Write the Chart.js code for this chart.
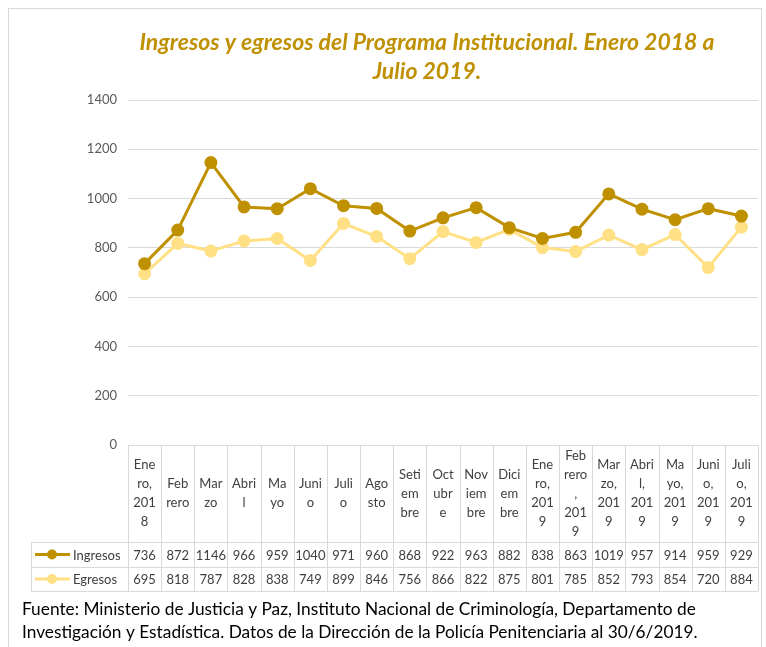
<!DOCTYPE html>
<html>
<head>
<meta charset="utf-8">
<script src="https://cdn.jsdelivr.net/npm/chart.js@4"></script>
<style>
  html, body { margin: 0; padding: 0; background: #fff; }
  #wrap { width: 766px; height: 647px; position: relative; }
</style>
</head>
<body>
<div id="wrap"><canvas id="chart"></canvas></div>
<script>
// categories as Excel wraps them in the data table
const categories = [
    ['Ene', 'ro,', '201', '8'], ['Feb', 'rero'], ['Mar', 'zo'], ['Abri', 'l'], ['Ma', 'yo'],
    ['Juni', 'o'], ['Juli', 'o'], ['Ago', 'sto'], ['Seti', 'em', 'bre'], ['Oct', 'ubr', 'e'],
    ['Nov', 'iem', 'bre'], ['Dici', 'em', 'bre'], ['Ene', 'ro,', '201', '9'],
    ['Feb', 'rero', ',', '201', '9'], ['Mar', 'zo,', '201', '9'], ['Abri', 'l,', '201', '9'],
    ['Ma', 'yo,', '201', '9'], ['Juni', 'o,', '201', '9'], ['Juli', 'o,', '201', '9']
];
const ingresos = [736, 872, 1146, 966, 959, 1040, 971, 960, 868, 922, 963, 882, 838, 863, 1019, 957, 914, 959, 929];
const egresos = [695, 818, 787, 828, 838, 749, 899, 846, 756, 866, 822, 875, 801, 785, 852, 793, 854, 720, 884];
const yTicks = [0, 200, 400, 600, 800, 1000, 1200, 1400];

const titleLines = ['Ingresos y egresos del Programa Institucional. Enero 2018 a', 'Julio 2019.'];
const footerLines = [
    'Fuente: Ministerio de Justicia y Paz, Instituto Nacional de Criminología, Departamento de',
    'Investigación y Estadística. Datos de la Dirección de la Policía Penitenciaria al 30/6/2019.'
];

const GOLD = '#BF9000';
const LIGHT = '#FFE084';
const GRID = '#D9D9D9';
const TEXT = '#404040';
const FONT = "Lato, 'Open Sans', sans-serif";

// frame, title, data table and footer drawn around the chart area
const excelTable = {
    id: 'excelTable',
    afterDraw(chart) {
        const ctx = chart.ctx;
        const area = chart.chartArea;
        const x = chart.scales.x;
        const n = categories.length;
        const w = (area.right - area.left) / n;
        const headBottom = area.bottom + 97;
        const row1 = headBottom + 25;
        const row2 = row1 + 24;
        const legendLeft = 31;

        ctx.save();
        // outer frame
        ctx.strokeStyle = GRID;
        ctx.lineWidth = 1;
        ctx.strokeRect(8.5, 8.5, 753, 660);

        // title
        ctx.fillStyle = GOLD;
        ctx.font = "italic bold 23px " + FONT;
        ctx.textAlign = 'center';
        ctx.textBaseline = 'middle';
        ctx.fillText(titleLines[0], 427, 43);
        ctx.fillText(titleLines[1], 427, 72);

        // table grid
        ctx.strokeStyle = GRID;
        ctx.beginPath();
        for (let i = 0; i <= n; i++) {
            const lx = Math.round(area.left + i * w) + 0.5;
            ctx.moveTo(lx, area.bottom);
            ctx.lineTo(lx, row2);
        }
        ctx.moveTo(legendLeft + 0.5, headBottom);
        ctx.lineTo(legendLeft + 0.5, row2);
        [headBottom, row1, row2].forEach(y => {
            ctx.moveTo(legendLeft, Math.round(y) + 0.5);
            ctx.lineTo(area.right, Math.round(y) + 0.5);
        });
        ctx.stroke();

        // header labels
        ctx.fillStyle = TEXT;
        ctx.font = "13px " + FONT;
        const lh = 19;
        categories.forEach((lines, i) => {
            const cx = x.getPixelForValue(i);
            const top = (area.bottom + headBottom) / 2 - (lines.length * lh) / 2 + lh / 2;
            lines.forEach((t, j) => ctx.fillText(t, cx, top + j * lh));
        });

        // value rows with legend keys
        const rows = [[ingresos, GOLD, 'Ingresos', (headBottom + row1) / 2],
                      [egresos, LIGHT, 'Egresos', (row1 + row2) / 2]];
        rows.forEach(([vals, color, name, cy]) => {
            ctx.fillStyle = TEXT;
            ctx.textAlign = 'center';
            vals.forEach((v, i) => ctx.fillText(String(v), x.getPixelForValue(i), cy + 1));
            ctx.strokeStyle = color;
            ctx.lineWidth = 3;
            ctx.beginPath();
            ctx.moveTo(35, cy);
            ctx.lineTo(70, cy);
            ctx.stroke();
            ctx.fillStyle = color;
            ctx.beginPath();
            ctx.arc(52, cy, 5, 0, Math.PI * 2);
            ctx.fill();
            ctx.fillStyle = TEXT;
            ctx.textAlign = 'left';
            ctx.fillText(name, 73, cy + 1);
        });

        // footer
        ctx.fillStyle = '#000';
        ctx.font = "17.3px " + FONT;
        ctx.textAlign = 'left';
        ctx.fillText(footerLines[0], 22, 609);
        ctx.fillText(footerLines[1], 22, 632);
        ctx.restore();
    }
};

new Chart(document.getElementById('chart'), {
    type: 'line',
    data: {
        labels: categories.map(c => c.join('')),
        datasets: [
            {
                label: 'Ingresos',
                data: ingresos,
                borderColor: GOLD,
                backgroundColor: GOLD,
                borderWidth: 3,
                pointRadius: 5,
                pointHoverRadius: 5
            },
            {
                label: 'Egresos',
                data: egresos,
                borderColor: LIGHT,
                backgroundColor: LIGHT,
                borderWidth: 3,
                pointRadius: 5,
                pointHoverRadius: 5
            }
        ]
    },
    options: {
        responsive: true,
        maintainAspectRatio: false,
        animation: false,
        layout: { padding: { left: 0, top: 100, right: 6, bottom: 202 } },
        plugins: {
            legend: { display: false },
            title: { display: false },
            tooltip: { enabled: false }
        },
        scales: {
            x: {
                display: false,
                offset: true
            },
            y: {
                min: 0,
                max: 1400,
                afterFit(scale) { scale.width = 128; },
                afterBuildTicks(scale) { scale.ticks = yTicks.map(v => ({ value: v })); },
                border: { display: false },
                grid: { color: GRID, drawTicks: false },
                ticks: {
                    padding: 11,
                    color: '#595959',
                    font: { family: FONT, size: 13 },
                    callback: v => String(v)
                }
            }
        }
    },
    plugins: [excelTable]
});
</script>
</body>
</html>
